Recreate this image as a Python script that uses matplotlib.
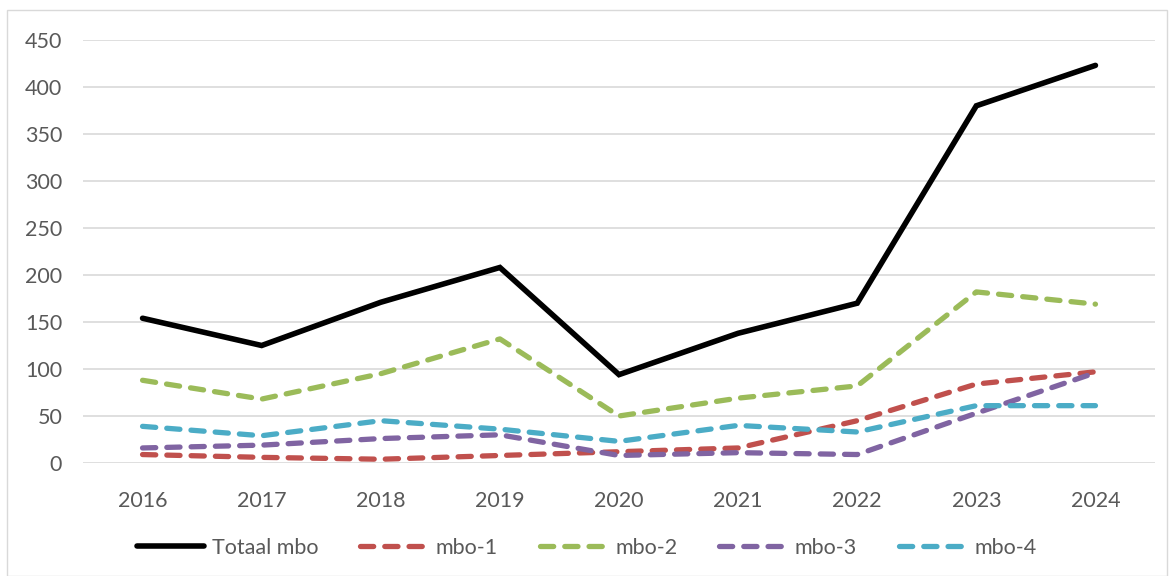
import matplotlib.pyplot as plt
from matplotlib.patches import Rectangle

# jaartallen en waarden
years = ["2016", "2017", "2018", "2019", "2020", "2021", "2022", "2023", "2024"]
totaal = [154, 125, 171, 208, 94, 138, 170, 380, 423]
mbo1 = [9, 6, 4, 8, 12, 16, 45, 84, 97]
mbo2 = [88, 68, 95, 132, 50, 69, 82, 182, 169]
mbo3 = [16, 19, 26, 30, 8, 11, 9, 53, 96]
mbo4 = [39, 29, 45, 36, 23, 40, 33, 61, 61]

plt.rcParams['font.family'] = ['Lato', 'DejaVu Sans']

fig = plt.figure(figsize=(11.73, 5.76), dpi=100)
ax = fig.add_axes([83 / 1173, 1 - 463 / 576, 1072 / 1173, 423 / 576])

# kader rond de figuur
fig.patches.append(Rectangle((7 / 1173, 0), 1160 / 1173, 1 - 10 / 576,
                             transform=fig.transFigure, fill=False,
                             edgecolor='#d9d9d9', linewidth=1))

x = range(len(years))
ax.plot(x, totaal, color='black', linewidth=4.0, label='Totaal mbo',
        solid_capstyle='round', solid_joinstyle='miter')
dashed = [(mbo1, '#C0504D', 'mbo-1'), (mbo2, '#9BBB59', 'mbo-2'),
          (mbo3, '#8064A2', 'mbo-3'), (mbo4, '#4BACC6', 'mbo-4')]
for vals, col, lab in dashed:
    ax.plot(x, vals, color=col, linewidth=3.8, dashes=(2.5, 2.1),
            dash_capstyle='round', label=lab)

ax.set_xlim(-0.5, len(years) - 0.5)
ax.set_ylim(0, 450)
ax.set_yticks(range(0, 451, 50))
ax.set_xticks(list(x))
ax.set_xticklabels(years)
ax.grid(axis='y', color='#d9d9d9', linewidth=1.2)
ax.set_axisbelow(True)
for s in ax.spines.values():
    s.set_visible(False)
ax.tick_params(length=0, labelsize=15.5, colors='#595959')
ax.tick_params(axis='y', pad=15)
ax.tick_params(axis='x', pad=20)

ax.legend(loc='center', bbox_to_anchor=(0.5, 1 - 548 / 576),
          bbox_transform=fig.transFigure, ncol=5, frameon=False, fontsize=15.5,
          handlelength=3.15, columnspacing=1.95, handletextpad=0.35,
          labelcolor='#595959')

fig.savefig('out.png', dpi=100)
